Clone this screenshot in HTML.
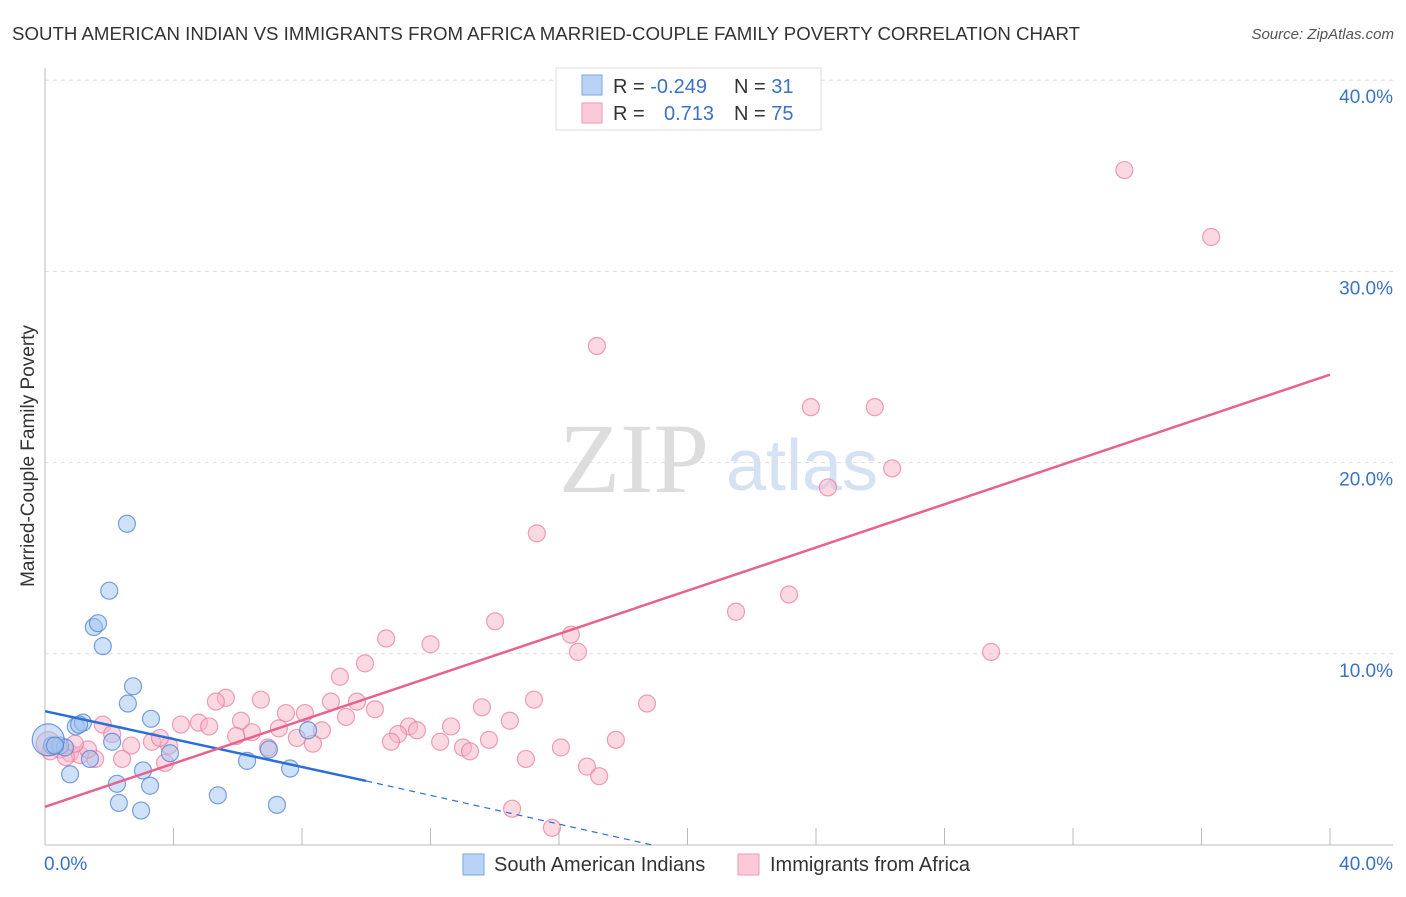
<!DOCTYPE html>
<html><head><meta charset="utf-8"><style>
body{margin:0;background:#fff;font-family:"Liberation Sans",sans-serif;}
</style></head><body>
<svg id="chart" width="1406" height="892" font-family="Liberation Sans, sans-serif">
<text x="12" y="40" font-size="18" fill="#333" textLength="1068" lengthAdjust="spacingAndGlyphs">SOUTH AMERICAN INDIAN VS IMMIGRANTS FROM AFRICA MARRIED-COUPLE FAMILY POVERTY CORRELATION CHART</text>
<text x="1394" y="39" font-size="15" fill="#555" text-anchor="end" font-style="italic">Source: ZipAtlas.com</text>
<text x="634" y="492" font-size="100" fill="#ddd" style="font-family:'Liberation Serif',serif" text-anchor="middle">ZIP</text>
<text x="802" y="490" font-size="72" fill="#d4e2f4" text-anchor="middle">atlas</text>
<g id="grid"></g>
<g id="axes"></g>
<g id="points"></g>
<g id="lines"></g>
<text transform="translate(34,456) rotate(-90)" font-size="19" fill="#333" text-anchor="middle">Married-Couple Family Poverty</text>
<g>
<rect x="556" y="68" width="265" height="62" fill="#fff" stroke="#ddd"/>
<rect x="582" y="75" width="20" height="20" fill="#b9d3f5" stroke="#7aa6e0"/>
<rect x="582" y="103" width="20" height="20" fill="#fbc9d7" stroke="#ee9ab4"/>
<text x="613" y="93" font-size="20" fill="#333">R = <tspan fill="#3b72c8">-0.249</tspan></text>
<text x="734" y="93" font-size="20" fill="#333">N = <tspan fill="#3b72c8"> 31</tspan></text>
<text x="613" y="120" font-size="20" fill="#333">R = <tspan fill="#3b72c8" x="664">0.713</tspan></text>
<text x="734" y="120" font-size="20" fill="#333">N = <tspan fill="#3b72c8">75</tspan></text>
</g>
<g>
<rect x="463" y="854" width="21" height="21" fill="#b9d3f5" stroke="#7aa6e0"/>
<text x="494" y="871" font-size="20" fill="#333">South American Indians</text>
<rect x="738" y="854" width="21" height="21" fill="#fbc9d7" stroke="#ee9ab4"/>
<text x="770" y="871" font-size="20" fill="#333">Immigrants from Africa</text>
</g>
</svg>
<script>
const yTicks=[10,20,30,40];
const yTickLabels=["10.0%","20.0%","30.0%","40.0%"];
const xEndLabels=["0.0%","40.0%"];
const blueX=[2.55,2.0,1.52,1.65,1.8,2.74,2.58,3.3,0.96,1.18,1.06,2.09,1.4,0.78,2.24,3.05,3.27,2.3,2.99,3.89,5.38,6.29,6.97,7.22,7.63,8.19,0.22,0.47,0.62,0.1,0.31];
const blueY=[16.8,13.3,11.4,11.6,10.4,8.3,7.4,6.6,6.2,6.4,6.3,5.4,4.5,3.7,3.2,3.9,3.1,2.2,1.8,4.8,2.6,4.4,5.0,2.1,4.0,6.0,5.2,5.2,5.1,5.5,5.2];
const pinkX=[33.6,36.3,17.18,23.84,25.83,26.37,24.37,15.31,23.16,21.51,14.01,10.62,12.0,16.37,16.59,29.45,9.96,9.18,5.63,5.32,6.72,8.9,9.71,10.27,9.37,13.6,15.22,18.74,7.5,8.09,14.47,4.23,4.79,5.11,6.1,6.44,7.28,8.62,11.33,10.99,11.58,12.64,10.77,12.3,13.01,13.23,13.82,16.06,17.77,7.84,8.34,6.94,5.95,1.8,2.09,2.68,3.33,3.86,3.58,2.4,1.56,3.74,14.97,16.87,17.25,14.54,15.78,0.47,0.78,1.09,0.16,1.34,0.93,0.65,0.1];
const pinkY=[35.3,31.8,26.1,22.9,22.9,19.7,18.7,16.3,13.1,12.2,11.7,10.8,10.5,11.0,10.1,10.1,9.5,8.8,7.7,7.5,7.6,7.5,7.5,7.1,6.7,7.2,7.6,7.4,6.9,6.9,6.5,6.3,6.4,6.2,6.5,5.9,6.1,6.0,6.2,5.8,6.0,6.2,5.4,5.4,5.1,4.9,5.5,5.1,5.5,5.6,5.3,5.1,5.7,6.3,5.8,5.2,5.4,5.2,5.6,4.5,4.5,4.3,4.5,4.1,3.6,1.9,0.9,5.0,4.8,4.7,4.9,5.0,5.3,4.6,5.3];
const blueLine=[0,7.0,10.0,3.35];
const blueDashEnd=[18.9,0];
const pinkLine=[0,2.0,40,24.6];
const X=v=>45+v*32.125, Y=v=>845-v*19.12;
const NS="http://www.w3.org/2000/svg";
function mk(t,a,p){const e=document.createElementNS(NS,t);for(const k in a)e.setAttribute(k,a[k]);document.getElementById(p).appendChild(e);return e;}
yTicks.forEach((t,i)=>{
 const g=mk('line',{x1:45,x2:1393,y1:Y(t),y2:Y(t),stroke:'#ddd','stroke-dasharray':'4,4'},'grid');
 
 
 const l=mk('text',{x:1393,y:Y(t)+23,'font-size':19,fill:'#3b72c8','text-anchor':'end'},'axes');
 l.textContent=yTickLabels[i];
 
 
});
const ya=mk('line',{x1:45,x2:45,y1:68,y2:845,stroke:'#bbb'},'axes');


const xa=mk('line',{x1:45,x2:1393,y1:845,y2:845,stroke:'#bbb'},'axes');


for(let i=0;i<=10;i++){const t=mk('line',{x1:X(i*4),x2:X(i*4),y1:828,y2:845,stroke:'#bbb'},'axes');
 
 }
const x0=mk('text',{x:44,y:870,'font-size':19,fill:'#3b72c8'},'axes');x0.textContent=xEndLabels[0];


const x1=mk('text',{x:1393,y:870,'font-size':19,fill:'#3b72c8','text-anchor':'end'},'axes');x1.textContent=xEndLabels[1];


pinkX.forEach((v,i)=>{const c=mk('circle',{cx:X(v),cy:Y(pinkY[i]),r:(i==pinkX.length-1?12:8.5),fill:'rgba(248,180,200,0.5)',stroke:'rgba(232,120,155,0.7)','stroke-width':1.2},'points');
 
 });
blueX.forEach((v,i)=>{const c=mk('circle',{cx:X(v),cy:Y(blueY[i]),r:(i==29?16:8.5),fill:'rgba(160,195,240,0.5)',stroke:'rgba(80,130,210,0.75)','stroke-width':1.2},'points');
 
 });
const bl=mk('line',{x1:X(blueLine[0]),y1:Y(blueLine[1]),x2:X(blueLine[2]),y2:Y(blueLine[3]),stroke:'#2b6fd6','stroke-width':2.5},'lines');


const bd=mk('line',{x1:X(blueLine[2]),y1:Y(blueLine[3]),x2:X(blueDashEnd[0]),y2:Y(blueDashEnd[1]),stroke:'#2b6fd6','stroke-width':1.2,'stroke-dasharray':'6,5'},'lines');


const pl=mk('line',{x1:X(pinkLine[0]),y1:Y(pinkLine[1]),x2:X(pinkLine[2]),y2:Y(pinkLine[3]),stroke:'#e8628e','stroke-width':2.5},'lines');


</script>
</body></html>
